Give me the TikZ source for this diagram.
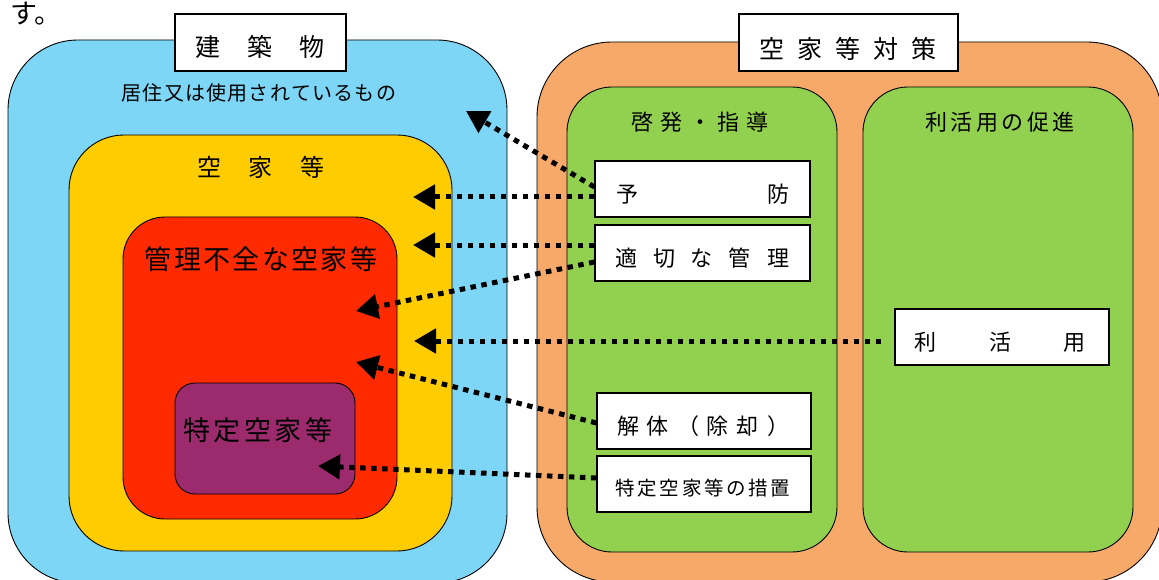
\documentclass[tikz,border=0pt]{standalone}
\usepackage{fontspec}
\setmainfont{Noto Sans CJK JP}
\usetikzlibrary{arrows.meta,calc}
\definecolor{bldgblue}{RGB}{125,214,246}
\definecolor{vacyellow}{RGB}{255,204,0}
\definecolor{badred}{RGB}{255,42,0}
\definecolor{specpurple}{RGB}{156,43,110}
\definecolor{measorange}{RGB}{247,169,106}
\definecolor{measgreen}{RGB}{146,208,80}
\newlength\mypitch
\makeatletter
\newcommand\pitched[2]{\setlength\mypitch{#1}\@tfor\pch:=#2\do{\makebox[\mypitch]{\pch}}}
\makeatother
\newcommand\fsz[1]{\fontsize{#1}{#1}\selectfont}
\tikzset{
  region/.style={draw=black, line width=0.9pt},
  whitebox/.style={draw=black, fill=white, line width=1.2pt, inner sep=0pt},
  txt/.style={inner sep=0pt, text=black},
  dotarrow/.style={line width=5pt, dash pattern=on 5.5pt off 5.5pt,
    -{Triangle[length=22pt,width=24pt]}}
}
\begin{document}
\begin{tikzpicture}[x=1pt,y=-1pt]
\useasboundingbox (0,0) rectangle (1159,580);
% left: buildings
\draw[region, fill=bldgblue, rounded corners=70pt] (8,40) rectangle (507,583);
\draw[region, fill=vacyellow, rounded corners=55pt] (69,135) rectangle (452,551);
\draw[region, fill=badred, rounded corners=42pt] (123,217) rectangle (397,519);
\draw[region, fill=specpurple, rounded corners=20pt] (175,383) rectangle (355,494);
% right: measures
\draw[region, fill=measorange, rounded corners=75pt] (537,42) rectangle (1162,582);
\draw[region, fill=measgreen, rounded corners=45pt] (567,87) rectangle (837,552);
\draw[region, fill=measgreen, rounded corners=45pt] (863,87) rectangle (1133,552);

% top text fragment
\node[txt, anchor=west] (su) at (10,14) {\fsz{27}す。};

% title boxes
\node[whitebox, minimum width=171pt, minimum height=57pt] (bldgbox) at (260.5,42.5) {};
\node[txt] (bldgtxt) at (260,47) {\fsz{25}\pitched{52pt}{建築物}};
\node[whitebox, minimum width=219pt, minimum height=57pt] (measbox) at (848.5,42.5) {};
\node[txt] (meastxt) at (848,49) {\fsz{25}\pitched{38pt}{空家等対策}};

% region labels
\node[txt] (inuse) at (259,93) {\fsz{20}\pitched{21.2pt}{居住又は使用されているもの}};
\node[txt] (vacant) at (261,167) {\fsz{24}\pitched{52pt}{空家等}};
\node[txt] (bad) at (261,259) {\fsz{27}\pitched{29.3pt}{管理不全な空家等}};
\node[txt] (spec) at (258,430) {\fsz{27}\pitched{30.5pt}{特定空家等}};
\node[txt] (guide) at (700,122) {\fsz{22}\pitched{29pt}{啓発・指導}};
\node[txt] (promo) at (1000,122) {\fsz{22}\pitched{25.5pt}{利活用の促進}};

% measure boxes
\node[whitebox, minimum width=215pt, minimum height=56pt] (yobo) at (702.5,189) {};
\node[txt] at (702.5,194) {\fsz{22}\pitched{151pt}{予防}};
\node[whitebox, minimum width=215pt, minimum height=56pt] (kanri) at (702.5,253) {};
\node[txt] at (702,258) {\fsz{22}\pitched{38pt}{適切な管理}};
\node[whitebox, minimum width=214pt, minimum height=56pt] (katsu) at (1002,337) {};
\node[txt] at (1000,342) {\fsz{22}\pitched{74.5pt}{利活用}};
\node[whitebox, minimum width=214pt, minimum height=56pt] (kaitai) at (704,421) {};
\node[txt] at (703,426) {\fsz{22}\pitched{30pt}{解体（除却）}};
\node[whitebox, minimum width=214pt, minimum height=56pt] (sochi) at (704,484) {};
\node[txt] at (703,488) {\fsz{19.5}\pitched{22.2pt}{特定空家等の措置}};

% arrow targets
\coordinate (t1) at (466,111);
\coordinate (t2) at (413,197);
\coordinate (t3) at (413,245);
\coordinate (t4) at (356,311);
\coordinate (t5) at (414,341);
\coordinate (t6) at (356,362);
\coordinate (t7) at (318,466);

\draw[dotarrow] ($(yobo.west)+(0,-2)$) -- (t1);
\draw[dotarrow] ($(yobo.west)+(0,8)$) -- (t2);
\draw[dotarrow] ($(kanri.west)+(0,-8)$) -- (t3);
\draw[dotarrow] ($(kanri.west)+(0,9)$) -- (t4);
\draw[dotarrow] ($(katsu.west)+(-13,4)$) -- (t5);
\draw[dotarrow] ($(kaitai.west)+(0,2)$) -- (t6);
\draw[dotarrow] ($(sochi.west)+(0,-6)$) -- (t7);
\end{tikzpicture}
\end{document}
